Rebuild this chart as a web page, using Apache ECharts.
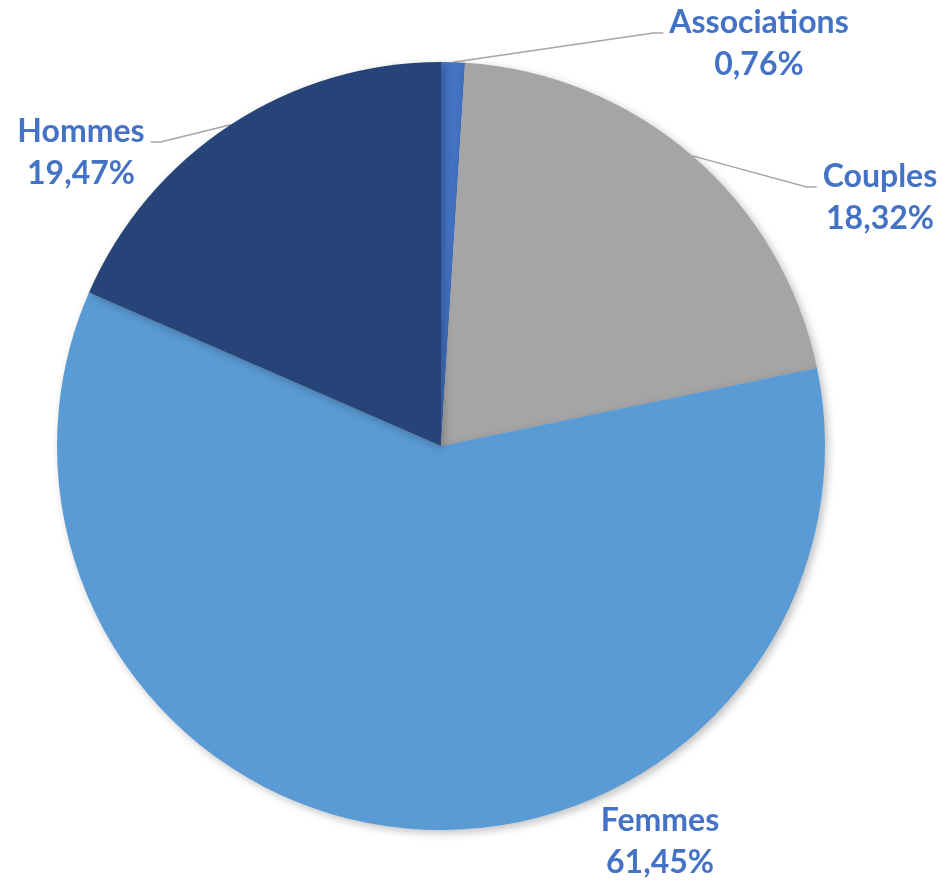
<!DOCTYPE html>
<html>
<head>
<meta charset="utf-8">
<title>Répartition</title>
<script src="https://cdn.jsdelivr.net/npm/echarts@6/dist/echarts.min.js"></script>
<style>
  html, body { margin: 0; padding: 0; background: #fff; }
  #chart { width: 945px; height: 881px; }
</style>
</head>
<body>
<div id="chart"></div>
<script>
// données
const categories = ["Associations", "Couples", "Femmes", "Hommes"];
// parts telles que dessinées (angles)
const shares = [1.0, 20.74, 59.8, 18.46];
// pourcentages affichés dans les étiquettes
const pctLabels = [0.76, 18.32, 61.45, 19.47];
const colors = ["#4472C4", "#A5A5A5", "#5B9BD5", "#264478"];

// centre des étiquettes (px) et côté du trait de rappel
const labelPos = [
  { x: 759, y: 44, side: "left" },
  { x: 880, y: 198, side: "left" },
  { x: 660, y: 842, side: null },
  { x: 81, y: 153, side: "right" }
];

const chart = echarts.init(document.getElementById("chart"));

const fmt = v => v.toFixed(2).replace(".", ",") + "%";

const option = {
  animation: false,
  series: [
    {
      type: "pie",
      center: [441, 446],
      radius: 384,
      startAngle: 90,
      clockwise: true,
      avoidLabelOverlap: false,
      itemStyle: {
        shadowBlur: 8,
        shadowOffsetX: 3,
        shadowOffsetY: 3,
        shadowColor: "rgba(0,0,0,0.25)"
      },
      label: {
        show: true,
        position: "outside",
        formatter: p => p.name + "\n" + fmt(pctLabels[p.dataIndex]),
        color: "#4472C4",
        fontFamily: "Lato",
        fontWeight: "bold",
        fontSize: 32,
        lineHeight: 42,
        align: "center"
      },
      labelLine: {
        show: true,
        lineStyle: { color: "#A6A6A6", width: 1.5 }
      },
      labelLayout: function (params) {
        const pos = labelPos[params.dataIndex];
        const w = params.labelRect.width;
        const res = { x: pos.x, y: pos.y, align: "center", verticalAlign: "middle" };
        if (pos.side && params.labelLinePoints) {
          const anchor = params.labelLinePoints[0];
          const ly = pos.y - 11;
          let endX, elbowX;
          if (pos.side === "left") {
            endX = pos.x - w / 2 - 6;
            elbowX = endX - 10;
          } else {
            endX = pos.x + w / 2 + 6;
            elbowX = endX + 10;
          }
          res.labelLinePoints = [anchor, [elbowX, ly], [endX, ly]];
        }
        return res;
      },
      data: categories.map((name, i) => ({
        name: name,
        value: shares[i],
        itemStyle: { color: colors[i] },
        labelLine: { show: labelPos[i].side !== null }
      }))
    }
  ]
};

chart.setOption(option);
</script>
</body>
</html>
